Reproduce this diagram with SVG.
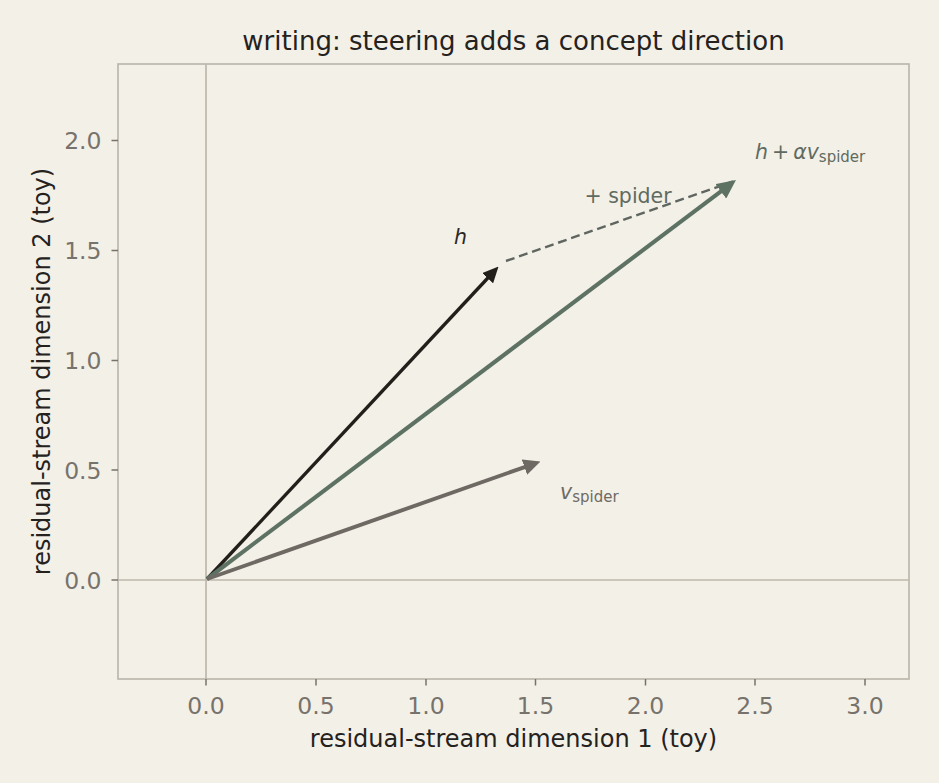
<svg xmlns="http://www.w3.org/2000/svg" width="939" height="783" viewBox="0 0 939 783">
<style>
  .tick { font-family: "DejaVu Sans", sans-serif; font-size: 23.5px; fill: #77736c; }
  .lab { font-family: "DejaVu Sans", sans-serif; font-size: 24px; fill: #25221e; }
  .title { font-family: "DejaVu Sans", sans-serif; font-size: 26px; fill: #25221e; }
  .ann { font-family: "DejaVu Sans", sans-serif; font-size: 20.5px; }
  .it { font-style: italic; }
  .sub { font-size: 15px; }
  .axl { stroke: #bdb8ad; stroke-width: 1.7; fill: none; }
  .tk { stroke: #77736c; stroke-width: 1.5; }
</style>
<defs>
  <marker id="hBlack" markerUnits="userSpaceOnUse" markerWidth="16" markerHeight="15" refX="1" refY="7.5" orient="auto" viewBox="0 0 16 15">
    <path d="M0,0 L16,7.5 L0,15 Z" fill="#221f1b"/>
  </marker>
  <marker id="hGreen" markerUnits="userSpaceOnUse" markerWidth="19" markerHeight="18" refX="1" refY="9" orient="auto" viewBox="0 0 19 18">
    <path d="M0,0 L19,9 L0,18 Z" fill="#5e7264"/>
  </marker>
  <marker id="hGray" markerUnits="userSpaceOnUse" markerWidth="17" markerHeight="16" refX="1" refY="8" orient="auto" viewBox="0 0 17 16">
    <path d="M0,0 L17,8 L0,16 Z" fill="#6e6a63"/>
  </marker>
</defs>
<rect x="0" y="0" width="939" height="783" fill="#f3f0e8"/>

<g id="axes">
  <line class="axl" x1="206" y1="64" x2="206" y2="679"/>
  <line class="axl" x1="118" y1="580" x2="909" y2="580"/>
  <rect class="axl" x="118" y="64" width="791" height="615"/>
  <g id="xticks">
    <line class="tk" x1="206" y1="679" x2="206" y2="685.5"/>
    <line class="tk" x1="316" y1="679" x2="316" y2="685.5"/>
    <line class="tk" x1="426" y1="679" x2="426" y2="685.5"/>
    <line class="tk" x1="535.5" y1="679" x2="535.5" y2="685.5"/>
    <line class="tk" x1="645.5" y1="679" x2="645.5" y2="685.5"/>
    <line class="tk" x1="755" y1="679" x2="755" y2="685.5"/>
    <line class="tk" x1="865" y1="679" x2="865" y2="685.5"/>
    <text class="tick" x="206" y="713.5" text-anchor="middle">0.0</text>
    <text class="tick" x="316" y="713.5" text-anchor="middle">0.5</text>
    <text class="tick" x="426" y="713.5" text-anchor="middle">1.0</text>
    <text class="tick" x="535.5" y="713.5" text-anchor="middle">1.5</text>
    <text class="tick" x="645.5" y="713.5" text-anchor="middle">2.0</text>
    <text class="tick" x="755" y="713.5" text-anchor="middle">2.5</text>
    <text class="tick" x="865" y="713.5" text-anchor="middle">3.0</text>
  </g>
  <g id="yticks">
    <line class="tk" x1="111.5" y1="580" x2="118" y2="580"/>
    <line class="tk" x1="111.5" y1="470" x2="118" y2="470"/>
    <line class="tk" x1="111.5" y1="360.5" x2="118" y2="360.5"/>
    <line class="tk" x1="111.5" y1="250.5" x2="118" y2="250.5"/>
    <line class="tk" x1="111.5" y1="140.5" x2="118" y2="140.5"/>
    <text class="tick" x="101.5" y="588.5" text-anchor="end">0.0</text>
    <text class="tick" x="101.5" y="478.5" text-anchor="end">0.5</text>
    <text class="tick" x="101.5" y="369" text-anchor="end">1.0</text>
    <text class="tick" x="101.5" y="259" text-anchor="end">1.5</text>
    <text class="tick" x="101.5" y="149" text-anchor="end">2.0</text>
  </g>
  <text class="lab" x="513.5" y="747" text-anchor="middle">residual-stream dimension 1 (toy)</text>
  <text class="lab" transform="translate(50,371.5) rotate(-90)" text-anchor="middle">residual-stream dimension 2 (toy)</text>
  <text class="title" x="513.5" y="49.5" text-anchor="middle">writing: steering adds a concept direction</text>
</g>

<g id="connectors">
  <line x1="506" y1="261" x2="733" y2="181.5" stroke="#5f6660" stroke-width="2.4" stroke-dasharray="9,4.8"/>
  <line id="arrow-h" x1="207" y1="579" x2="488.3" y2="277.5" stroke="#221f1b" stroke-width="3.3" marker-end="url(#hBlack)"/>
  <line id="arrow-steered" x1="207" y1="579" x2="721.6" y2="190.8" stroke="#5e7264" stroke-width="4.1" marker-end="url(#hGreen)"/>
  <line id="arrow-v" x1="207" y1="579" x2="525.4" y2="466.8" stroke="#6e6a63" stroke-width="3.9" marker-end="url(#hGray)"/>
</g>

<g id="label-h">
  <text class="ann it" x="454" y="243.5" fill="#2a2723">h</text>
</g>
<g id="label-plus-spider">
  <text class="ann" x="584.5" y="203" fill="#5f6b60">+ spider</text>
</g>
<g id="label-steered">
  <text class="ann" x="755" y="159" fill="#5f6b60" font-size="21"><tspan class="it">h</tspan><tspan dx="4">+</tspan><tspan class="it" dx="4">αv</tspan><tspan class="sub" dy="3">spider</tspan></text>
</g>
<g id="label-v">
  <text class="ann" x="560" y="499" fill="#6e6a63"><tspan class="it">v</tspan><tspan class="sub" dy="3">spider</tspan></text>
</g>
</svg>
